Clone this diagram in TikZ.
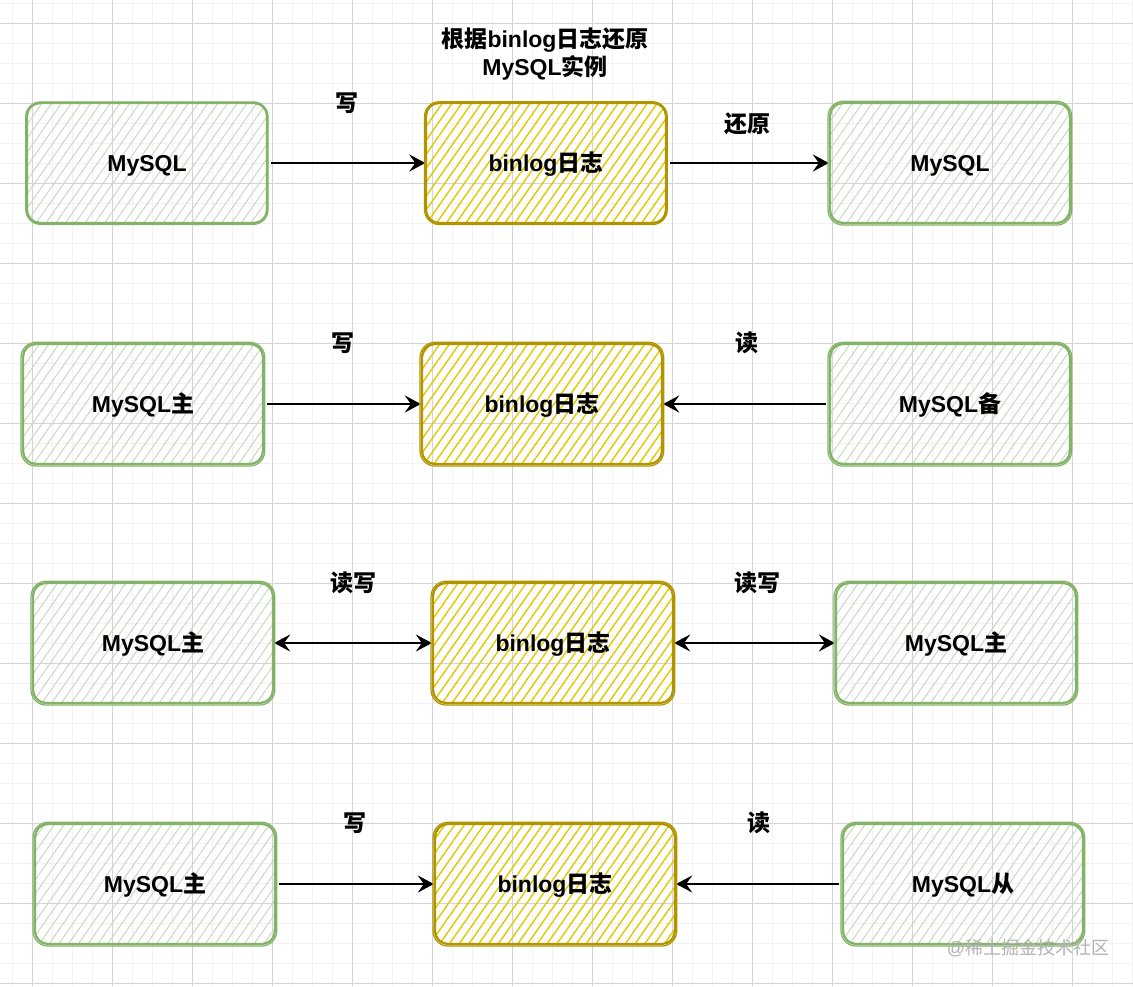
\documentclass[tikz,border=0pt]{standalone}
\usepackage{fontspec}
\setmainfont{Liberation Sans}
\newfontfamily\cjk{Noto Sans CJK SC}
\usetikzlibrary{patterns.meta,arrows.meta}
\newcommand{\zh}[1]{{\cjk #1}}
\definecolor{gstroke}{HTML}{82B366}
\definecolor{ghatch}{HTML}{C9D9C2}
\definecolor{ystroke}{HTML}{B09500}
\definecolor{yhatch}{HTML}{E3C800}
\definecolor{minorg}{HTML}{F2F2F2}
\definecolor{majorg}{HTML}{D4D4D4}
\tikzset{
  box/.style={rounded corners=13pt, minimum width=240pt, minimum height=120pt, line width=2.3pt,
    font=\fontsize{23}{28}\selectfont\bfseries, inner sep=0pt, text height=20pt, text depth=3pt},
  gbox/.style={box, draw=gstroke, pattern={Lines[angle=55,distance=8pt,line width=1pt]}, pattern color=ghatch},
  ybox/.style={box, draw=ystroke, pattern={Lines[angle=55,distance=8pt,line width=1.4pt]}, pattern color=yhatch},
  gsk/.style={draw=gstroke, line width=1.2pt, rounded corners=15pt},
  ysk/.style={draw=ystroke, line width=1.2pt, rounded corners=15pt},
  lbl/.style={font=\fontsize{23}{28}\selectfont\bfseries, inner sep=0pt},
  conn/.style={line width=2pt, -{Stealth[length=16pt,width=17pt,inset=6pt]}, shorten <=3pt},
  bconn/.style={line width=2pt, {Stealth[length=16pt,width=17pt,inset=6pt]}-{Stealth[length=16pt,width=17pt,inset=6pt]}},
  minor/.style={draw=minorg, line width=1pt},
  major/.style={draw=majorg, line width=1pt}
}
\begin{document}
\begin{tikzpicture}[x=1pt,y=-1pt]
\useasboundingbox (0,0) rectangle (1133,986);
\fill[white] (0,0) rectangle (1133,986);
\foreach \x in {12,32,...,1132} \draw[minor] (\x,0) -- (\x,986);
\foreach \y in {3,23,...,983} \draw[minor] (0,\y) -- (1133,\y);
\foreach \x in {32,112,...,1112} \draw[major] (\x,0) -- (\x,986);
\foreach \y in {23,103,...,983} \draw[major] (0,\y) -- (1133,\y);

% title
\node[lbl, align=center] (title) at (545,54) {\zh{根据}binlog\zh{日志还原}\\MySQL\zh{实例}};

% row 1
\node[gbox] (a1) at (147,163) {MySQL};
\node[ybox] (b1) at (546,163) {binlog\zh{日志}};
\node[gbox] (c1) at (950,163) {MySQL};
\draw[conn] (a1) -- (b1);
\draw[conn] (b1) -- (c1);
\node[lbl] (l1a) at (347,103) {\zh{写}};
\node[lbl] (l1b) at (747,124) {\zh{还原}};

% row 2
\node[gbox] (a2) at (143,404) {MySQL\zh{主}};
\node[ybox] (b2) at (542,404) {binlog\zh{日志}};
\node[gbox] (c2) at (950,404) {MySQL\zh{备}};
\draw[conn] (a2) -- (b2);
\draw[conn] (c2) -- (b2);
\node[lbl] (l2a) at (343,343) {\zh{写}};
\node[lbl] (l2b) at (747,343) {\zh{读}};

% row 3
\node[gbox] (a3) at (153,643) {MySQL\zh{主}};
\node[ybox] (b3) at (553,643) {binlog\zh{日志}};
\node[gbox] (c3) at (956,643) {MySQL\zh{主}};
\draw[bconn] (a3) -- (b3);
\draw[bconn] (b3) -- (c3);
\node[lbl] (l3a) at (353,583) {\zh{读写}};
\node[lbl] (l3b) at (757,583) {\zh{读写}};

% row 4
\node[gbox] (a4) at (155,884) {MySQL\zh{主}};
\node[ybox] (b4) at (555,884) {binlog\zh{日志}};
\node[gbox] (c4) at (963,884) {MySQL\zh{从}};
\draw[conn] (a4) -- (b4);
\draw[conn] (c4) -- (b4);
\node[lbl] (l4a) at (355,823) {\zh{写}};
\node[lbl] (l4b) at (759,823) {\zh{读}};

% sketchy second outlines
\foreach \n in {a1,c1,a2,c2,a3,c3,a4,c4}
  \draw[gsk] ([shift={(-0.8,-0.6)}]\n.north west) rectangle ([shift={(0.6,0.9)}]\n.south east);
\foreach \n in {b1,b2,b3,b4}
  \draw[ysk] ([shift={(-0.8,-0.6)}]\n.north west) rectangle ([shift={(0.6,0.9)}]\n.south east);

% watermark
\node[font=\fontsize{18}{22}\selectfont, text=black!30, inner sep=0pt] (wm) at (1028,948) {@\zh{稀土掘金技术社区}};
\end{tikzpicture}
\end{document}
